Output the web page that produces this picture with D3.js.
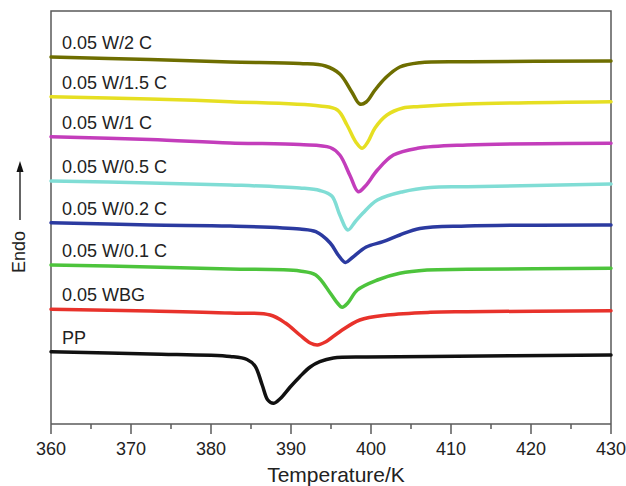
<!DOCTYPE html>
<html lang="en">
<head>
    <meta charset="UTF-8">
    <title>DSC curves</title>
    <script src="https://d3js.org/d3.v7.min.js"></script>
    <style>
        body {
            margin: 0;
            background-color: white;
        }
        text {
            font-family: Arial, "Liberation Sans", sans-serif;
            fill: #222;
        }
    </style>
</head>
<body>
    <div id="chart"></div>

    <script>
        // Tick values for the temperature axis
        const majorTicks = [360, 370, 380, 390, 400, 410, 420, 430];
        const minorTicks = [365, 375, 385, 395, 405, 415, 425];

        // Curves as [temperature K, heat flow (a.u., stacked)]
        const ppCurve = [[360,7.23],[372.4,7.0],[382.4,6.75],[384.5,6.45],[385.5,5.8],[386.4,3.9],[387.1,2.4],[387.8,2.07],[388.6,2.5],[389.9,3.7],[391.1,4.73],[392.4,5.7],[393.6,6.23],[395.3,6.6],[399.5,6.7],[407.4,6.75],[430,6.9]];
        const wbgCurve = [[360,11.47],[372.4,11.3],[382.4,11.1],[387.4,10.9],[389.3,10.1],[391.1,8.9],[392.4,8.1],[393.3,7.9],[394.3,8.2],[396.1,9.23],[398.6,10.4],[402.0,10.9],[407.4,11.17],[412.0,11.23],[430,11.33]];
        const c01Curve = [[360,15.9],[372.4,15.7],[382.4,15.5],[391.1,15.3],[393.1,14.9],[394.9,13.1],[395.8,12.1],[396.4,11.67],[397.1,12.1],[398.3,13.4],[400.8,14.4],[403.6,15.07],[407.0,15.4],[412.0,15.47],[430,15.57]];
        const c02Curve = [[360,20.13],[372.4,19.9],[382.4,19.8],[391.1,19.5],[393.1,19.23],[394.9,18.1],[395.9,16.9],[396.8,16.15],[397.6,16.6],[399.4,17.7],[401.5,18.23],[403.6,18.9],[406.1,19.55],[412.0,19.8],[430,19.9]];
        const c05Curve = [[360,24.3],[372.4,24.1],[382.4,23.9],[391.1,23.6],[393.6,23.35],[395.1,22.8],[396.1,20.9],[397.1,19.4],[398.0,20.2],[399.0,21.1],[400.8,22.4],[404.0,23.23],[407.4,23.65],[412.0,23.73],[430,24.0]];
        const c1Curve = [[360,28.73],[372.4,28.45],[382.4,28.1],[391.1,27.95],[394.9,27.65],[396.1,26.9],[397.4,24.8],[398.4,23.23],[399.3,23.8],[400.8,25.4],[402.8,26.9],[405.8,27.57],[412.0,27.9],[430,28.07]];
        const c15Curve = [[360,32.73],[372.4,32.5],[382.4,32.23],[393.6,31.8],[395.8,31.4],[397.0,29.9],[398.1,28.2],[398.9,27.57],[399.6,28.2],[400.5,29.6],[402.0,30.9],[404.0,31.6],[406.1,31.75],[412.0,32.0],[430,32.23]];
        const c2Curve = [[360,36.7],[372.4,36.45],[382.4,36.2],[391.1,36.05],[394.3,35.8],[396.1,35.0],[397.6,33.2],[398.6,32.0],[399.4,32.2],[400.5,33.4],[401.8,34.6],[403.6,35.7],[406.1,36.13],[412.4,36.23],[430,36.3]];

        const seriesNames = ["PP", "0.05 WBG", "0.05 W/0.1 C", "0.05 W/0.2 C", "0.05 W/0.5 C", "0.05 W/1 C", "0.05 W/1.5 C", "0.05 W/2 C"];
        const seriesCurves = [ppCurve, wbgCurve, c01Curve, c02Curve, c05Curve, c1Curve, c15Curve, c2Curve];
        const seriesColors = ["#111111", "#e8322b", "#4dc43c", "#2b3aa0", "#80ddd5", "#c33dbb", "#e6df22", "#6e6e00"];

        const width = 626;
        const height = 486;
        const margin = { top: 11, right: 15, bottom: 62, left: 51 };

        const svg = d3.select("#chart")
            .append("svg")
            .attr("width", width)
            .attr("height", height);

        const x = d3.scaleLinear()
            .domain([360, 430])
            .range([margin.left, width - margin.right]);

        const y = d3.scaleLinear()
            .domain([0, 41.3])
            .range([height - margin.bottom, margin.top]);

        // Frame (left, top, right)
        svg.append("path")
            .attr("d", `M${x(360)},${y(0)}V${y(41.3)}H${x(430)}V${y(0)}`)
            .attr("fill", "none")
            .attr("stroke", "#5a5a5a")
            .attr("stroke-width", 1.5);

        // Bottom axis
        const axisG = svg.append("g")
            .attr("transform", `translate(0,${y(0)})`);

        axisG.append("line")
            .attr("x1", x(360)).attr("x2", x(430))
            .attr("stroke", "#5a5a5a")
            .attr("stroke-width", 1.5);

        axisG.selectAll(".major")
            .data(majorTicks)
            .enter()
            .append("line")
            .attr("x1", d => x(d)).attr("x2", d => x(d))
            .attr("y1", 0).attr("y2", 10)
            .attr("stroke", "#5a5a5a")
            .attr("stroke-width", 1.5);

        axisG.selectAll(".minor")
            .data(minorTicks)
            .enter()
            .append("line")
            .attr("x1", d => x(d)).attr("x2", d => x(d))
            .attr("y1", 0).attr("y2", 5)
            .attr("stroke", "#5a5a5a")
            .attr("stroke-width", 1.5);

        axisG.selectAll(".tick-label")
            .data(majorTicks)
            .enter()
            .append("text")
            .attr("x", d => x(d))
            .attr("y", 31)
            .attr("text-anchor", "middle")
            .style("font-size", "18px")
            .text(d => d);

        svg.append("text")
            .attr("x", 336)
            .attr("y", 482)
            .attr("text-anchor", "middle")
            .style("font-size", "21px")
            .text("Temperature/K");

        // Endo label with arrow
        svg.append("text")
            .attr("transform", "translate(25,273) rotate(-90)")
            .style("font-size", "18px")
            .text("Endo");

        svg.append("line")
            .attr("x1", 20).attr("x2", 20)
            .attr("y1", 220).attr("y2", 170)
            .attr("stroke", "#111")
            .attr("stroke-width", 1.3);

        svg.append("path")
            .attr("d", "M20,161 L16.5,172 L23.5,172 Z")
            .attr("fill", "#111");

        // Curves
        const line = d3.line()
            .x(d => x(d[0]))
            .y(d => y(d[1]))
            .curve(d3.curveCatmullRom.alpha(0.5));

        seriesCurves.forEach((curve, i) => {
            svg.append("path")
                .datum(curve)
                .attr("d", line)
                .attr("fill", "none")
                .attr("stroke", seriesColors[i])
                .attr("stroke-width", 3.5)
                .attr("stroke-linejoin", "round")
                .attr("stroke-linecap", "round");

            svg.append("text")
                .attr("x", x(360) + 11)
                .attr("y", y(curve[0][1]) - 8)
                .style("font-size", "18px")
                .text(seriesNames[i]);
        });
    </script>
</body>
</html>
